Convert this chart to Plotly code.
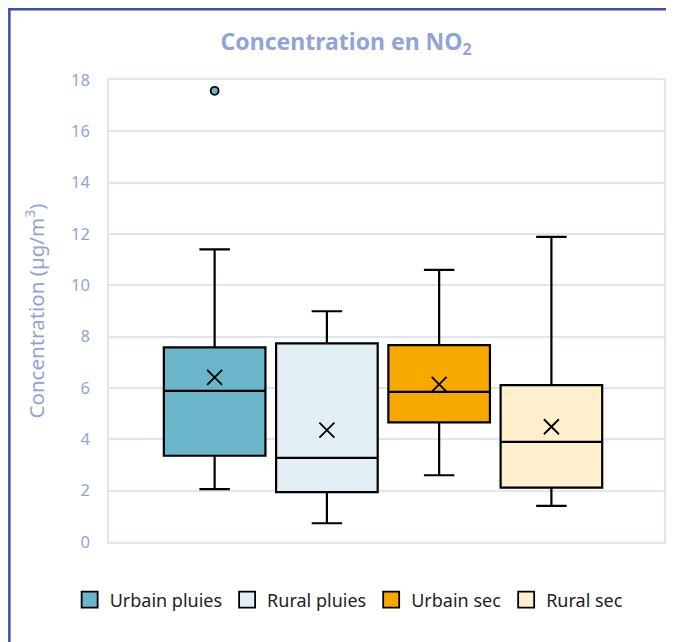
import plotly.graph_objects as go

series = ["Urbain pluies", "Rural pluies", "Urbain sec", "Rural sec"]
fills = ["#6BB5CB", "#E1EEF4", "#F7A900", "#FFEFCC"]
positions = [0, 1, 2, 3]
q1 = [3.36, 1.94, 4.66, 2.12]
median = [5.89, 3.28, 5.85, 3.90]
q3 = [7.58, 7.74, 7.67, 6.11]
lower = [2.06, 0.73, 2.60, 1.41]
upper = [11.40, 8.99, 10.60, 11.89]
means = [6.41, 4.36, 6.14, 4.49]
outlier_x = [0]
outlier_y = [17.58]
yticks = [0, 2, 4, 6, 8, 10, 12, 14, 16, 18]

label_color = "#8FA5D6"
grid_color = "#E1E5F2"
font_family = "Noto Sans"

fig = go.Figure()
for i, name in enumerate(series):
    fig.add_trace(go.Box(
        x=[positions[i]], q1=[q1[i]], median=[median[i]], q3=[q3[i]],
        lowerfence=[lower[i]], upperfence=[upper[i]],
        name=name, fillcolor=fills[i],
        line=dict(color="black", width=2.2),
        width=0.905, whiskerwidth=0.3, boxpoints=False,
        showlegend=False, hoverinfo="skip",
    ))
    # legend proxy
    fig.add_trace(go.Scatter(
        x=[None], y=[None], mode="markers", name=name,
        marker=dict(symbol="square", size=16, color=fills[i],
                    line=dict(color="black", width=1.8)),
    ))

fig.add_trace(go.Scatter(
    x=positions, y=means, mode="markers", showlegend=False,
    marker=dict(symbol="x-thin", size=15, line=dict(color="black", width=1.8)),
    hoverinfo="skip",
))
fig.add_trace(go.Scatter(
    x=outlier_x, y=outlier_y, mode="markers", showlegend=False,
    marker=dict(symbol="circle", size=8, color=fills[0],
                line=dict(color="black", width=1.8)),
    hoverinfo="skip",
))

# page body has an 8px margin, so the figure is drawn at (8, 8)
W, H = 666, 634
ml, mr, mt, mb = 101, 8, 72, 100
pw, ph = W - ml - mr, H - mt - mb

def px_x(p):
    return (p - ml) / pw

def px_y(p):
    return (H - mb - p) / ph

# outer frame (left and top visible)
frame_color = "#3B4FA3"
fig.add_shape(type="line", xref="paper", yref="paper",
              x0=px_x(0), x1=px_x(700), y0=px_y(1.2), y1=px_y(1.2),
              line=dict(color=frame_color, width=2.5))
fig.add_shape(type="line", xref="paper", yref="paper",
              x0=px_x(1.0), x1=px_x(1.0), y0=px_y(0), y1=px_y(700),
              line=dict(color=frame_color, width=2.5))

fig.update_layout(
    width=W, height=H,
    margin=dict(l=ml, r=mr, t=mt, b=mb),
    paper_bgcolor="white", plot_bgcolor="white",
    font=dict(family=font_family, color=label_color),
    title=dict(text="<b>Concentration en NO<sub>2</sub></b>",
               x=px_x(339), xanchor="center", xref="paper",
               y=1 - 34 / H, yanchor="middle",
               font=dict(size=23, color=label_color, family=font_family)),
    showlegend=True,
    legend=dict(orientation="h", x=px_x(342), xanchor="center",
                y=px_y(592), yanchor="middle",
                font=dict(size=18, color="#222222", family=font_family),
                bgcolor="rgba(0,0,0,0)"),
    xaxis=dict(range=[-0.941, 4.003], showticklabels=False, showgrid=False,
               zeroline=False, showline=True, linecolor=grid_color,
               linewidth=1.5, mirror=True, ticks=""),
    yaxis=dict(range=[0, 18], tickvals=yticks, showgrid=True,
               gridcolor=grid_color, gridwidth=1.5, zeroline=False,
               showline=True, linecolor=grid_color, linewidth=1.5, mirror=True,
               ticks="", ticklabelstandoff=14,
               tickfont=dict(size=16.5, color=label_color),
               title=dict(text="Concentration (µg/m<sup>3</sup>)",
                          font=dict(size=20.5, color=label_color),
                          standoff=21)),
)

fig.write_html("out.html")
